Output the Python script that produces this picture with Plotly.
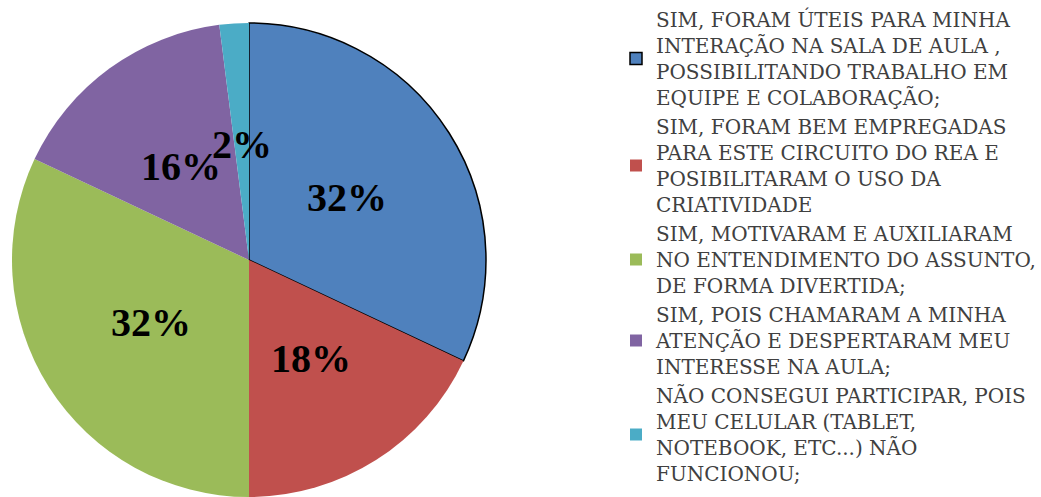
import math
import plotly.graph_objects as go

labels = [
    "SIM, FORAM ÚTEIS PARA MINHA<br>INTERAÇÃO NA SALA DE AULA ,<br>POSSIBILITANDO TRABALHO EM<br>EQUIPE E COLABORAÇÃO;",
    "SIM, FORAM BEM EMPREGADAS<br>PARA ESTE CIRCUITO DO REA E<br>POSIBILITARAM O USO DA<br>CRIATIVIDADE",
    "SIM, MOTIVARAM E AUXILIARAM<br>NO ENTENDIMENTO DO ASSUNTO,<br>DE FORMA DIVERTIDA;",
    "SIM, POIS CHAMARAM A MINHA<br>ATENÇÃO E DESPERTARAM MEU<br>INTERESSE NA AULA;",
    "NÃO CONSEGUI PARTICIPAR, POIS<br>MEU CELULAR (TABLET,<br>NOTEBOOK, ETC...) NÃO<br>FUNCIONOU;",
]
values = [32, 18, 32, 16, 2]
colors = ["#4F81BD", "#C0504D", "#9BBB59", "#8064A2", "#4BACC6"]
line_colors = ["#000000", "#C0504D", "#9BBB59", "#8064A2", "#4BACC6"]
line_widths = [1.5, 0, 0, 0, 0]

W, H = 1041, 497
dom_x = [0.0, 498 / W]
dom_y = [0.0, 474 / H]

fig = go.Figure(
    go.Pie(
        labels=labels,
        values=values,
        sort=False,
        direction="clockwise",
        rotation=0,
        textinfo="none",
        hoverinfo="label+percent",
        marker=dict(colors=colors, line=dict(color=line_colors, width=line_widths)),
        domain=dict(x=dom_x, y=dom_y),
    )
)

# percentage labels placed along each slice's mid-angle
cx = (dom_x[0] + dom_x[1]) / 2 * W
R = min((dom_x[1] - dom_x[0]) * W, (dom_y[1] - dom_y[0]) * H) / 2
cy_top = H - ((dom_y[0] + dom_y[1]) / 2 * H)
total = sum(values)
annotations = []
cum = 0
for v in values:
    mid = (cum + v / 2) / total * 2 * math.pi
    cum += v
    r = 0.49 * R
    px = cx + r * math.sin(mid)
    py = cy_top - r * math.cos(mid)
    annotations.append(
        dict(
            x=px / W,
            y=1 - py / H,
            xref="paper",
            yref="paper",
            xanchor="center",
            yanchor="middle",
            showarrow=False,
            text=f"<b>{round(v / total * 100)}%</b>",
            font=dict(family="Liberation Serif, DejaVu Serif, serif", size=40, color="#000000"),
        )
    )

fig.update_layout(
    width=W,
    height=H,
    margin=dict(l=0, r=0, t=0, b=0),
    paper_bgcolor="#FFFFFF",
    plot_bgcolor="#FFFFFF",
    showlegend=True,
    legend=dict(
        x=0.592,
        y=1.0,
        xanchor="left",
        yanchor="top",
        font=dict(family="DejaVu Serif, serif", size=20, color="#404040"),
        tracegroupgap=0,
        itemwidth=30,
        valign="middle",
        bgcolor="rgba(0,0,0,0)",
    ),
    annotations=annotations,
)

fig.write_html(
    "out.html",
    config={"displayModeBar": False},
    post_script="document.body.style.margin='0';document.body.style.overflow='hidden';",
)
